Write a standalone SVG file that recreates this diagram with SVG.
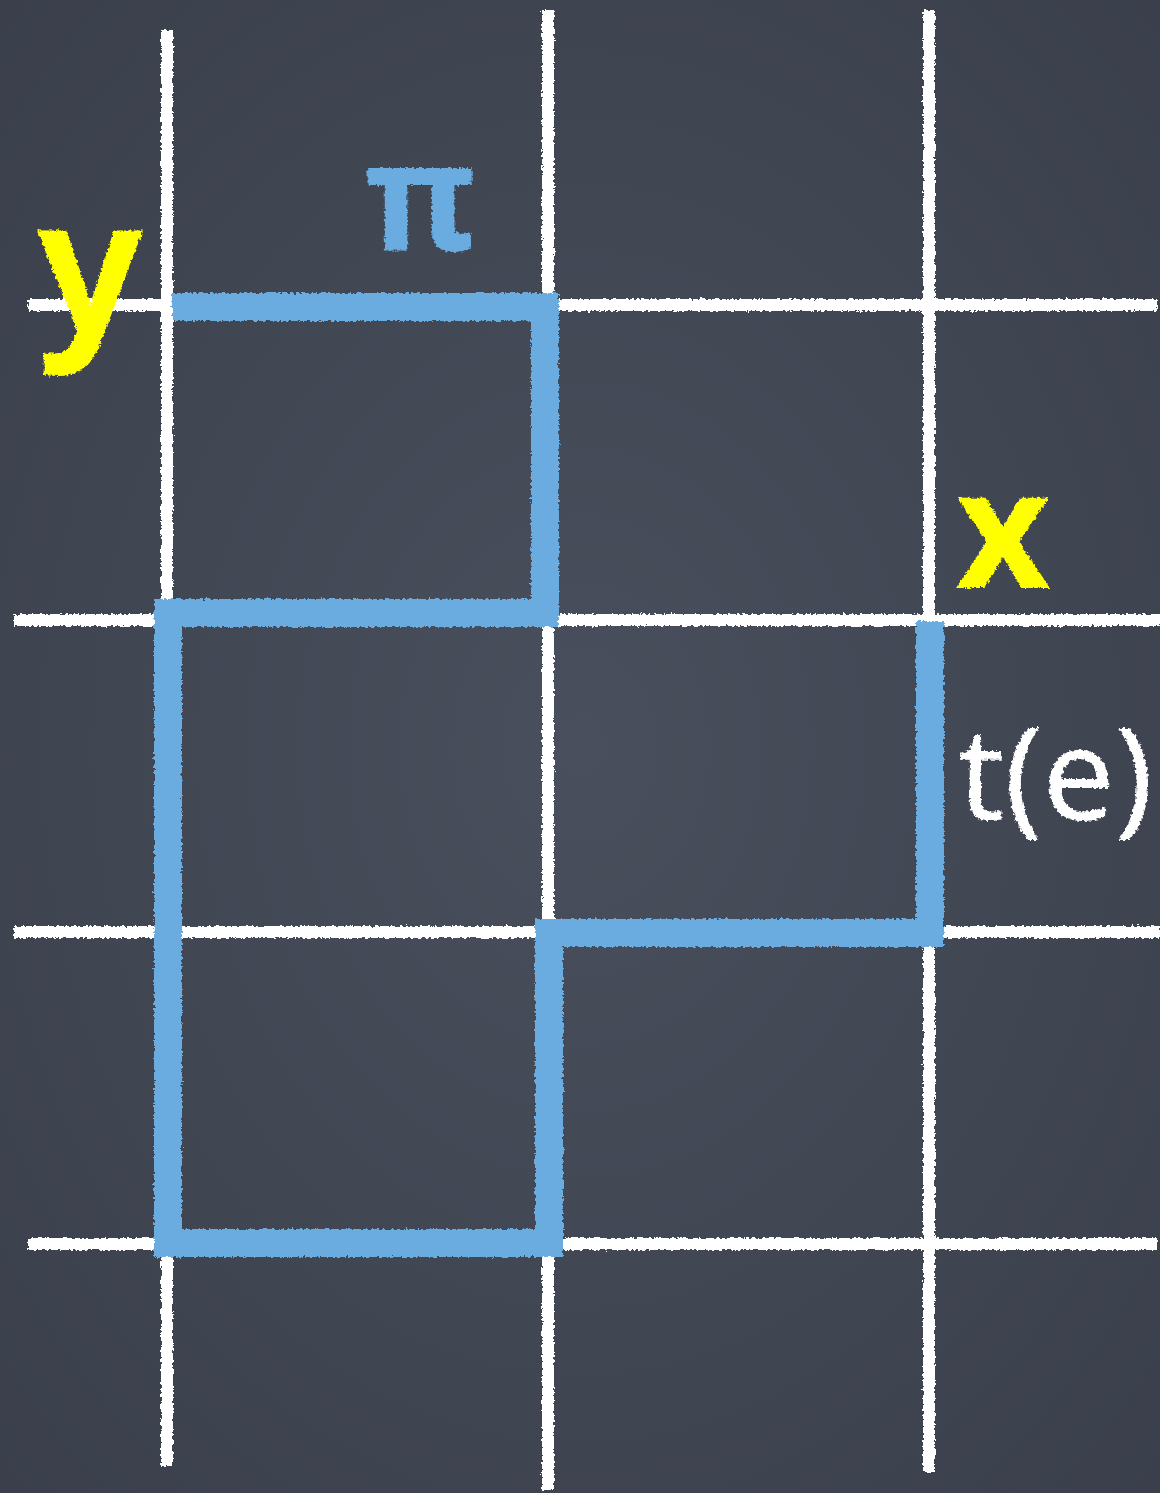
<svg xmlns="http://www.w3.org/2000/svg" width="1160" height="1493" viewBox="0 0 1160 1493">
  <defs>
    <radialGradient id="board" cx="0.5" cy="0.5" r="0.8">
      <stop offset="0" stop-color="#4a4f5d"/>
      <stop offset="1" stop-color="#383d49"/>
    </radialGradient>
    <filter id="chalk" x="-5%" y="-5%" width="110%" height="110%">
      <feTurbulence type="fractalNoise" baseFrequency="0.35" numOctaves="2" seed="3" result="n"/>
      <feDisplacementMap in="SourceGraphic" in2="n" scale="5" xChannelSelector="R" yChannelSelector="G"/>
    </filter>
    <style>
      .grid { stroke: #ffffff; stroke-width: 12; fill: none; stroke-linecap: butt; }
      .pathline { stroke: #6aace0; stroke-width: 28; fill: none; stroke-linejoin: miter; stroke-linecap: square; }
      .lbl { font-family: "Noto Sans", "DejaVu Sans", sans-serif; font-weight: bold; }
    </style>
  </defs>
  <rect x="0" y="0" width="1160" height="1493" fill="url(#board)"/>
  <g id="grid" filter="url(#chalk)">
    <line class="grid" x1="167" y1="30" x2="167" y2="1466"/>
    <line class="grid" x1="548" y1="10" x2="548" y2="1490"/>
    <line class="grid" x1="929" y1="10" x2="929" y2="1472"/>
    <line class="grid" x1="28" y1="305" x2="1157" y2="305"/>
    <line class="grid" x1="14" y1="620" x2="1160" y2="620"/>
    <line class="grid" x1="14" y1="932" x2="1160" y2="932"/>
    <line class="grid" x1="28" y1="1244" x2="1157" y2="1244"/>
  </g>
  <g id="connectors" filter="url(#chalk)">
    <path class="pathline" d="M 186 307 L 545 307 L 545 613 L 168 613 L 168 1243 L 549 1243 L 549 933 L 930 933 L 930 635"/>
  </g>
  <g id="label-y">
    <text class="lbl" x="90" y="332" font-size="185" fill="#ffff00" text-anchor="middle" filter="url(#chalk)">y</text>
  </g>
  <g id="label-pi">
    <text class="lbl" x="420" y="250" font-size="150" fill="#6aace0" text-anchor="middle" filter="url(#chalk)">π</text>
  </g>
  <g id="label-x">
    <text class="lbl" x="1003" y="588" font-size="165" fill="#ffff00" text-anchor="middle" filter="url(#chalk)">x</text>
  </g>
  <g id="label-te">
    <text x="958" y="820" font-family="'Noto Sans', 'DejaVu Sans', sans-serif" font-size="128" fill="#ffffff" filter="url(#chalk)">t(e)</text>
  </g>
</svg>
